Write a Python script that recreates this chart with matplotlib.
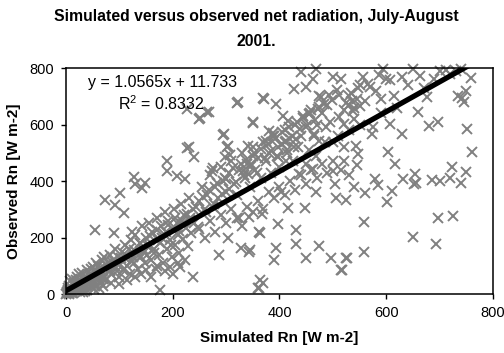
import numpy as np
import matplotlib
matplotlib.use('Agg')
import matplotlib.pyplot as plt

plt.rcParams['font.family'] = ['Liberation Sans', 'DejaVu Sans']
plt.rcParams['mathtext.fontset'] = 'custom'
plt.rcParams['mathtext.rm'] = 'Liberation Sans'

# simulated (x) and observed (y) net radiation
sim = [0, 2, 5, 3, 8, 10, 12, 15, 18, 20, 22, 25, 28, 30, 32, 35, 38, 40, 42, 45, 48, 50, 52, 55, 58, 60, 62,
       5, 8, 12, 15, 20, 25, 30, 35, 40, 45, 50, 55, 60, 3, 6, 1, 4, 7, 14, 18, 24, 27, 33, 36, 44, 47, 53, 57,
       62, 65, 68, 70,
       65, 70, 72, 75, 78, 80, 82, 85, 88, 90, 92, 95, 98, 100, 100, 105, 108, 110, 112, 115, 118, 120, 122,
       125, 128, 130, 132, 135, 138, 140, 142, 145, 148, 150, 152, 155, 158, 160, 162, 165, 168, 170, 172, 175,
       178, 180, 182, 185, 188, 190, 192, 195, 198, 200, 202, 205, 208, 210, 212, 215, 218, 220, 222, 225, 228,
       230, 232, 235, 238, 240,
       70, 85, 100, 115, 130, 140, 150, 160, 170, 185, 195, 210, 200,
       54, 90, 124, 73, 101, 92, 109, 142, 130, 148, 127, 189, 189, 208, 223, 227, 230, 240, 227, 249, 264, 251,
       320, 369, 350, 294, 388, 301, 307, 275,
       250, 255, 260, 265, 270, 275, 280, 285, 290, 295, 300, 305, 310, 315, 320, 325, 330, 335, 340, 345, 350,
       355, 360, 365, 370, 375, 380, 385, 390, 395, 400, 405, 410, 415, 420, 425, 430, 435, 440, 445, 450, 455,
       460, 465, 470, 475, 480, 485, 490, 495,
       296, 380, 388, 375, 412, 431, 464, 474, 500, 303, 298, 341, 350, 346, 331, 341, 414, 397, 412, 427, 449,
       468, 500, 463, 273, 300, 436, 440, 468, 463, 500, 515, 427, 449, 478, 322, 371, 393, 268, 350, 406, 416,
       455, 474, 487, 511, 520,
       250, 260, 270, 280, 290, 300, 310, 320, 330, 340, 350, 360, 370, 380, 390, 400, 410, 420, 430, 440, 450,
       460, 470, 480, 490, 500,
       468, 506, 524, 448, 416, 403, 361, 397, 431, 431, 474, 393, 390, 449, 496, 524, 515, 363, 361, 328, 343,
       287, 303, 367, 343, 324, 238, 213, 223, 176, 360, 369, 345, 363,
       520, 530, 540, 550, 556, 560, 569, 537, 580, 594, 590, 600, 607, 615, 629, 640, 650, 663, 670, 676, 690,
       700, 712, 720, 730, 740, 758, 743, 750, 735, 745, 659, 680, 697, 751, 607, 629, 575, 573, 543, 547, 603,
       616, 545, 760, 723, 749, 654, 631, 579, 560, 584, 601, 610, 652, 685, 655, 700, 720, 740, 558, 697, 725,
       650, 693, 558, 517, 526, 530, 510, 520, 550, 590, 620, 520, 530, 540, 505, 515,
       530, 535, 540, 545, 525, 550,
       10, 16, 23, 29, 34, 41, 46, 51, 58, 64, 69, 76, 83, 87, 94, 103, 107, 113, 121, 127, 134, 139, 146, 153,
       157, 164, 171, 177, 183, 191, 197, 204, 211, 217, 226, 233, 243, 248, 256, 262, 268, 277, 283, 292, 298,
       306, 313, 318, 327, 333, 338, 347, 353, 358, 366, 372, 378, 384, 392, 398, 404, 411, 418, 423, 433, 438,
       444, 452, 458, 466, 472, 484, 492, 498, 508, 512, 534, 548, 566, 586]
obs = [0, 5, 3, 12, 8, 20, 4, 15, 25, 10, 30, 18, 40, 22, 8, 45, 30, 15, 55, 38, 25, 60, 45, 30, 70, 52, 20,
       30, 45, 55, 38, 60, 70, 75, 62, 85, 72, 95, 80, 100, 20, 0, 8, 15, 25, 2, 48, 50, 6, 52, 12, 60, 90, 18,
       110, 88, 40, 120, 60,
       75, 95, 130, 50, 110, 85, 140, 70, 120, 100, 160, 80, 130, 110, 60, 150, 90, 175, 125, 100, 160, 70, 190,
       130, 110, 210, 150, 90, 180, 130, 240, 160, 110, 200, 140, 250, 170, 120, 220, 160, 90, 270, 190, 140,
       240, 200, 110, 290, 220, 160, 260, 190, 130, 230, 300, 175, 250, 210, 145, 320, 260, 195, 280, 235, 170,
       340, 270, 215, 300, 250,
       30, 40, 35, 50, 60, 70, 85, 60, 100, 80, 95, 110, 70,
       227, 216, 219, 333, 358, 315, 286, 375, 390, 393, 414, 435, 471, 418, 407, 517, 520, 485, 655, 619, 644,
       623, 676, 694, 605, 563, 570, 520, 492, 446,
       330, 380, 300, 350, 420, 310, 380, 340, 450, 400, 360, 430, 470, 390, 350, 440, 500, 410, 460, 380, 520,
       440, 480, 410, 540, 470, 500, 430, 560, 490, 450, 530, 580, 500, 550, 470, 600, 520, 560, 630, 590, 510,
       650, 560, 600, 700, 640, 540, 670, 610,
       566, 577, 559, 542, 542, 549, 566, 542, 538, 524, 485, 524, 488, 460, 435, 425, 510, 485, 471, 520, 460,
       488, 435, 442, 435, 407, 425, 786, 798, 761, 768, 761, 726, 733, 697, 680, 690, 673, 644, 609, 630, 612,
       637, 662, 591, 627, 602,
       230, 200, 260, 220, 280, 250, 300, 270, 240, 310, 290, 330, 300, 360, 340, 380, 350, 400, 370, 420, 390,
       440, 410, 460, 430, 470,
       361, 340, 333, 304, 304, 361, 219, 248, 227, 177, 170, 163, 120, 127, 127, 127, 85, 50, 21, 163, 149,
       138, 198, 283, 273, 269, 60, 96, 120, 14, 20, 39, 156, 216,
       650, 700, 620, 740, 768, 683, 733, 648, 720, 798, 690, 760, 758, 700, 768, 740, 798, 772, 730, 697, 760,
       790, 793, 780, 790, 798, 765, 694, 720, 700, 680, 644, 595, 609, 584, 602, 566, 591, 566, 524, 496, 503,
       460, 457, 503, 450, 432, 425, 407, 407, 358, 386, 326, 365, 389, 404, 393, 400, 410, 395, 255, 269, 276,
       202, 177, 149, 85, 127, 580, 560, 520, 600, 640, 660, 470, 420, 380, 390, 440,
       670, 685, 660, 690, 675, 665,
       14, 28, 35, 21, 48, 57, 40, 68, 64, 90, 55, 101, 80, 115, 97, 128, 85, 140, 118, 155, 133, 182, 150, 170,
       205, 145, 228, 180, 212, 245, 175, 268, 222, 248, 285, 262, 310, 238, 345, 292, 370, 318, 395, 355, 410,
       372, 445, 398, 462, 420, 475, 455, 498, 430, 515, 482, 530, 505, 548, 520, 575, 540, 592, 560, 610, 585,
       625, 598, 640, 615, 655, 672, 705, 688, 722, 705, 712, 730, 745, 775]

# linear trendline reported on the chart
slope = 1.0565
intercept = 11.733
r2 = 0.8332

fig = plt.figure(figsize=(5.04, 3.53), dpi=100)
ax = fig.add_axes([0.131, 0.167, 0.847, 0.640])

ax.plot(sim, obs, linestyle='none', marker='x', color='#808080', markersize=7, markeredgewidth=1.4,
        clip_on=False, zorder=2)
xl = np.array([0, 760])
ax.plot(xl, slope * xl + intercept, color='black', linewidth=3.8, zorder=3)

ax.set_xlim(0, 800)
ax.set_ylim(0, 800)
ax.set_xticks([0, 200, 400, 600, 800])
ax.set_yticks([0, 200, 400, 600, 800])
ax.tick_params(direction='out', length=3.5, width=1, labelsize=10.5, pad=5)
for s in ax.spines.values():
    s.set_linewidth(1.1)

ax.set_xlabel('Simulated Rn [W m-2]', fontsize=11, fontweight='bold', labelpad=8)
ax.set_ylabel('Observed Rn [W m-2]', fontsize=11, fontweight='bold', labelpad=6)
fig.text(0.508, 1 - 17 / 353, 'Simulated versus observed net radiation, July-August',
         ha='center', va='center', fontsize=11.3, fontweight='bold')
fig.text(0.508, 1 - 41 / 353, '2001.', ha='center', va='center', fontsize=11.3, fontweight='bold')

fig.text(163 / 504, 1 - 82 / 353, 'y = %.4fx + %.3f' % (slope, intercept), ha='center', va='center',
         fontsize=11.5)
fig.text(161 / 504, 1 - 104 / 353, r'R$^2$ = %.4f' % r2, ha='center', va='center', fontsize=11.5)

fig.savefig('out.png', dpi=100)
